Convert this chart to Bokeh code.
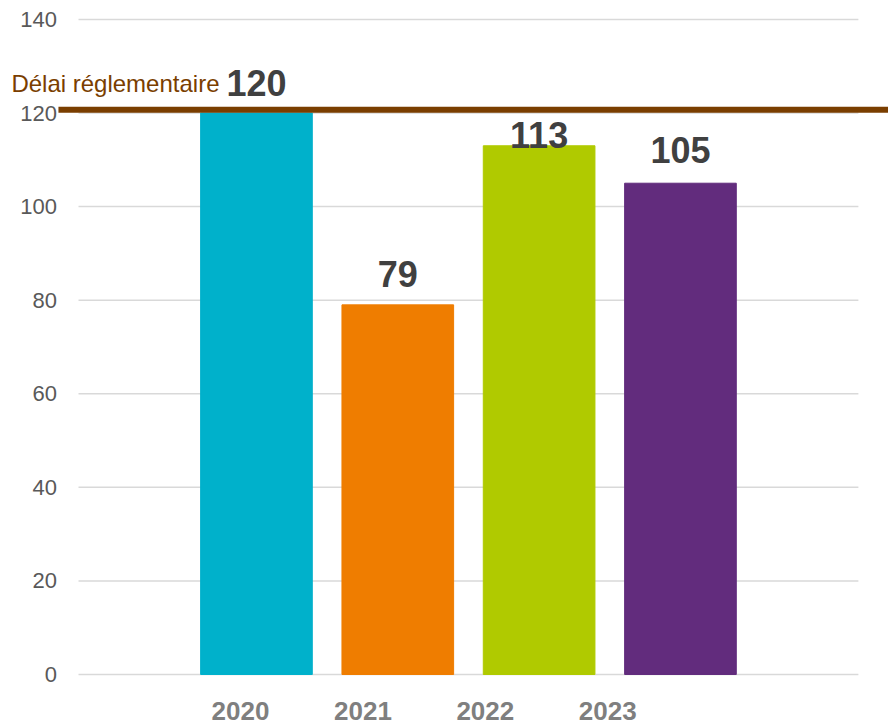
from bokeh.plotting import figure
from bokeh.models import ColumnDataSource, LinearAxis, Range1d, FixedTicker
from bokeh.core.properties import value
from bokeh.embed import file_html
from bokeh.resources import INLINE

years = ["2020", "2021", "2022", "2023"]
delays = [120, 79, 113, 105]
bar_colors = ["#00B1CB", "#EF7D00", "#B0CA00", "#622C7D"]
label_dy = [-30, -31, -11, -33]  # pixel shift of value labels (style)
delai = 120
delai_text = "Délai réglementaire"
y_ticks = [0, 20, 40, 60, 80, 100, 120, 140]

FONT = "Liberation Sans"
pos = [1, 2, 3, 4]

X0, X1 = -0.811, 5.472
src = ColumnDataSource(dict(x=pos, top=delays, color=bar_colors,
                            txt=[str(v) for v in delays], dy=label_dy))

p = figure(width=888, height=727, output_backend="svg", toolbar_location=None,
           x_range=Range1d(X0, X1), y_range=Range1d(-3.42, 144.05),
           x_axis_location=None, y_axis_location=None,
           min_border_left=0, min_border_right=0, min_border_top=0, min_border_bottom=37)
p.outline_line_color = None
p.xgrid.visible = False
p.ygrid.visible = False

# gridlines (shorter than the frame)
p.segment(x0=[-0.259] * len(y_ticks), x1=[5.259] * len(y_ticks), y0=y_ticks, y1=y_ticks,
          line_color="#D9D9D9", line_width=1.5)
# y tick labels
p.text(x=[-0.412] * len(y_ticks), y=y_ticks, text=[str(t) for t in y_ticks],
       text_align="right", text_baseline="middle", text_font=value(FONT),
       text_font_size="22px", text_color="#595959")

p.vbar(x="x", top="top", bottom=0, width=0.79, color="color", source=src)

p.text(x="x", y="top", text="txt", y_offset="dy", source=src, text_align="center",
       text_baseline="alphabetic", text_font=value(FONT),
       text_font_size="36px", text_font_style="bold", text_color="#404040")

# regulatory delay line + label
p.segment(x0=[-0.401], x1=[X1], y0=[delai + 0.7], y1=[delai + 0.7],
          line_color="#7A3E00", line_width=6)
p.text(x=[-0.734], y=[delai], text=[delai_text], y_offset=[-30], text_align="left",
       text_baseline="alphabetic", text_font=value(FONT),
       text_font_size="24px", text_color="#7A3E00")

# x labels on their own range
p.extra_x_ranges = {"lab": Range1d(-0.961, 6.294)}
xa = LinearAxis(x_range_name="lab", ticker=FixedTicker(ticks=pos),
                major_label_overrides={k: y for k, y in zip(pos, years)})
xa.axis_line_color = None
xa.major_tick_line_color = None
xa.minor_tick_line_color = None
xa.major_label_standoff = 5
xa.major_label_text_font = FONT
xa.major_label_text_font_size = "26px"
xa.major_label_text_font_style = "bold"
xa.major_label_text_color = "#7F7F7F"
p.add_layout(xa, "below")

open("out.html", "w").write(file_html(p, INLINE))
